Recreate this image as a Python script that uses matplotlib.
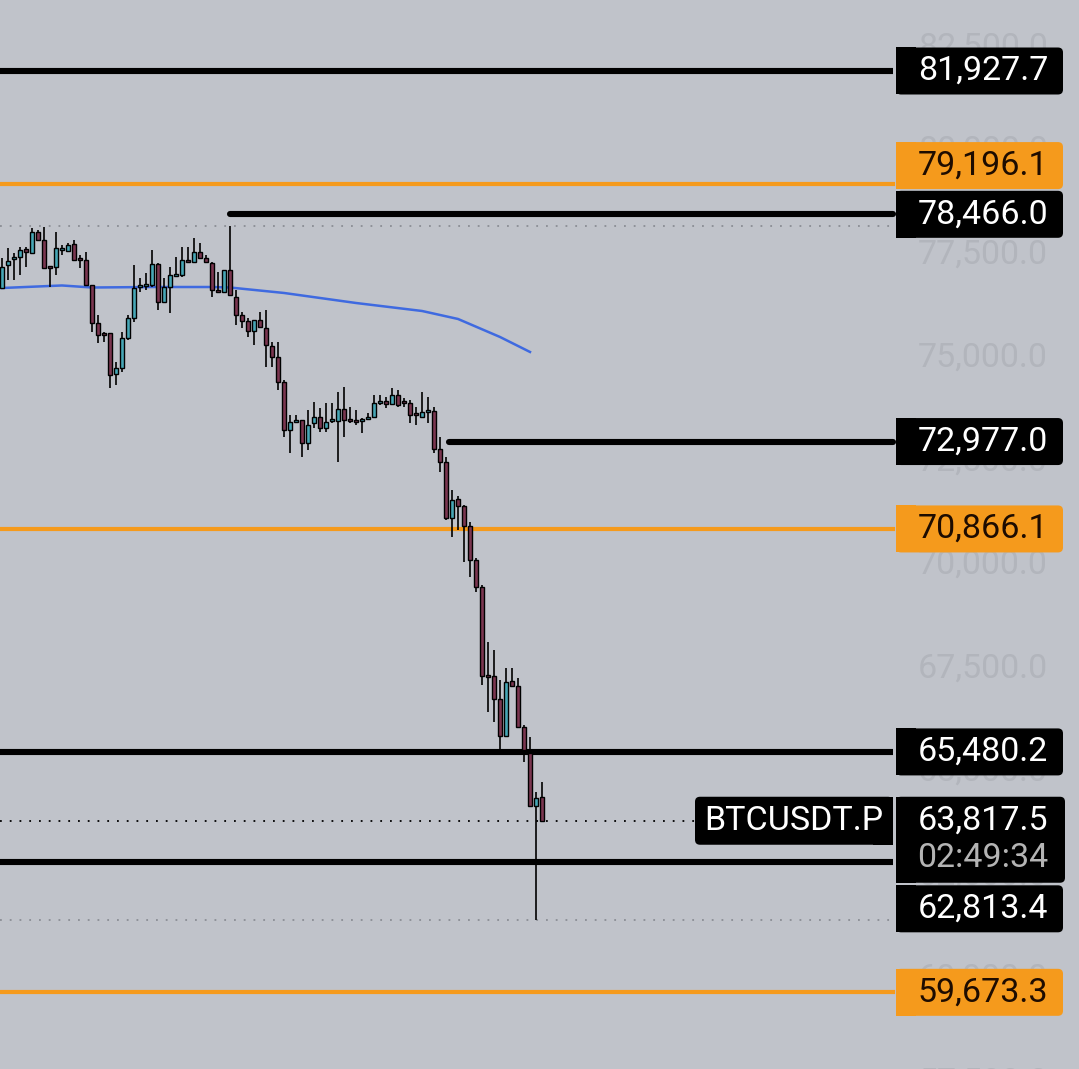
import numpy as np
import matplotlib.pyplot as plt
from matplotlib.patches import FancyBboxPatch, Rectangle
from matplotlib.transforms import Affine2D

plt.rcParams['font.family'] = ['Roboto', 'DejaVu Sans']

# 15m-ish candles
opens = [76686, 77242, 77387, 77435, 77628, 77532, 78039, 77846, 77217, 77193,
         77604, 77580, 77749, 77411, 77363, 76759, 75841, 75600, 75600, 74610,
         74754, 75479, 75962, 76710, 76735, 76759, 77266, 76348, 76710, 76976,
         77000, 77363, 77314, 77556, 77411, 77290, 76638, 76590, 77121, 76469,
         76034, 75890, 75648, 75914, 75720, 75286, 75020, 74416, 73257, 73450,
         73498, 72943, 73426, 73571, 73305, 73474, 73474, 73764, 73498, 73474,
         73474, 73523, 73571, 73909, 73957, 73885, 74102, 73933, 73909, 73668,
         73571, 73692, 73716, 72798, 72484, 71131, 71590, 71421, 70938, 70117,
         69465, 67315, 67315, 66759, 65866, 67194, 67073, 66083, 65455, 64175,
         64392]
highs = [77411, 77652, 77532, 77676, 77676, 78135, 78087, 78160, 77217, 78039,
         77725, 77773, 77846, 77483, 77556, 76759, 76034, 75624, 75600, 74899,
         75624, 76034, 77242, 76928, 77049, 77604, 77290, 76928, 77193, 77435,
         77676, 77676, 77894, 77773, 77483, 77314, 77073, 77121, 78184, 76638,
         76107, 75962, 75914, 76107, 76155, 75382, 75382, 74464, 73619, 73619,
         73498, 73740, 73933, 73788, 73909, 73909, 74175, 74296, 73812, 73740,
         73547, 73668, 74102, 74102, 74054, 74271, 74223, 74030, 73982, 73812,
         74175, 74054, 73812, 73088, 72605, 71808, 71663, 71445, 71035, 70165,
         69513, 68136, 67943, 67218, 67508, 67508, 67266, 66131, 65841, 64513,
         64754]
lows = [76686, 76880, 76880, 77000, 77193, 77532, 77846, 77169, 76710, 77000,
        77483, 77556, 77363, 77169, 76759, 75624, 75358, 75382, 74271, 74344,
        74658, 75431, 75865, 76590, 76638, 76710, 76155, 76324, 76083, 76952,
        76952, 77290, 77290, 77411, 77290, 76469, 76566, 76566, 76517, 75793,
        75720, 75503, 75310, 75720, 74779, 74779, 74223, 73088, 72701, 73426,
        72605, 72773, 73305, 73209, 73209, 73426, 72484, 73088, 73426, 73378,
        73185, 73498, 73571, 73861, 73788, 73861, 73812, 73812, 73426, 73378,
        73547, 73426, 72701, 72243, 71083, 70673, 70842, 70069, 69706, 69344,
        67097, 66445, 66204, 65407, 65841, 67049, 66059, 65237, 64151, 61421,
        63812]
closes = [77193, 77338, 77435, 77604, 77556, 78039, 77846, 77169, 77169, 77652,
          77652, 77725, 77363, 77363, 76759, 75841, 75551, 75551, 74585, 74754,
          75479, 75962, 76686, 76759, 76783, 77266, 76348, 76710, 77000, 77024,
          77363, 77314, 77556, 77411, 77314, 76638, 76590, 77121, 76517, 76034,
          75890, 75648, 75914, 75745, 75310, 75020, 74416, 73257, 73450, 73498,
          72943, 73378, 73571, 73305, 73450, 73498, 73764, 73498, 73474, 73450,
          73523, 73571, 73909, 73957, 73885, 74102, 73861, 73909, 73619, 73619,
          73692, 73740, 72798, 72484, 71131, 71566, 71421, 70938, 70117, 69465,
          67315, 67291, 66759, 65866, 67170, 67073, 66083, 65527, 64175, 64368,
          63817.5]

# moving average, sampled at a few candles
ma_idx = [0, 8, 10, 15, 25, 35, 38, 47, 59, 70, 76, 83, 88]
ma_val = [76686, 76735, 76747, 76698, 76710, 76710, 76698, 76566, 76324,
          76131, 75938, 75503, 75141]

# drawn levels
levels = [81927.7, 79196.1, 78466.0, 72977.0, 70866.1, 65480.2, 62813.4, 59673.3]
level_kind = ['black', 'orange', 'black', 'black', 'orange', 'black', 'black', 'orange']

ticks = [82500, 80000, 77500, 75000, 72500, 70000, 67500, 65000, 62500, 60000, 57500]
symbol = 'BTCUSDT.P'
countdown = '02:49:34'

# ---- layout / style ----
W, H = 1079, 1069
bg = '#c0c3ca'
up_c = '#47a7b6'
dn_c = '#7b3650'
orange = '#f59a1c'
ymin, ymax = 57821.0, 83642.7
line_end = 893  # px where lines stop
level_start = {2: 38, 3: 74.5}       # candle index where a line starts
label_shift = {1: -18.5, 6: 46.5}    # px, label pushed off its line

fig = plt.figure(figsize=(W / 100, H / 100), dpi=100)
fig.patch.set_facecolor(bg)
ax = fig.add_axes([0, 0, 1, 1])
ax.set_facecolor(bg)
ax.set_xlim(-1 / 3, (W - 2) / 6)
ax.set_ylim(ymin, ymax)
ax.axis('off')

px = Affine2D().scale(1 / W, 1 / H) + fig.transFigure
ppx = (ymax - ymin) / H


def ypx(p):
    return (p - ymin) / ppx


# price scale labels
for t in ticks:
    ax.text(1048, ypx(t), f'{t:,.1f}', transform=px, ha='right', va='center',
            fontsize=24.5, color='#b2b5bc', zorder=1)

xl0, xl1 = ax.get_xlim()
x_idx_end = xl0 + line_end / W * (xl1 - xl0)

for k, (lv, kind) in enumerate(zip(levels, level_kind)):
    x0 = level_start.get(k, xl0)
    if kind == 'black':
        ax.plot([x0, x_idx_end], [lv, lv], color='black', lw=4.4,
                solid_capstyle='round' if k in level_start else 'butt', zorder=2)
    else:
        ax.plot([x0, x_idx_end], [lv, lv], color=orange, lw=3.0, zorder=2)

# high / low / last dotted lines
hi, lo = max(highs), min(lows)
ax.plot([xl0, x_idx_end], [hi, hi], color='#8a8d94', lw=1.3,
        ls=(0, (1, 4.4)), zorder=2)
ax.plot([xl0, x_idx_end], [lo, lo], color='#8a8d94', lw=1.3,
        ls=(0, (1, 4.4)), zorder=2)
last_end = xl0 + 695 / W * (xl1 - xl0)
ax.plot([xl0, last_end], [closes[-1], closes[-1]], color='black',
        lw=1.3, ls=(0, (1, 4.4)), zorder=2)

# moving average
ax.plot(ma_idx, ma_val, color='#3f6ae0', lw=1.8, zorder=3)

# candles
idx = np.arange(len(opens))
o = np.array(opens)
c = np.array(closes)
cols = np.where(c >= o, up_c, dn_c)
ax.vlines(idx, lows, highs, color='black', lw=1.2, zorder=4)
bottoms = np.minimum(o, c)
heights = np.maximum(np.abs(c - o), ppx * 1.5)
ax.bar(idx, heights, bottom=bottoms, width=0.74, color=cols,
       edgecolor='black', linewidth=1.0, zorder=5)


def tag(yc, text, fc, tc, x0=896, x1=1063, h=47, square_left=True):
    ax.add_patch(FancyBboxPatch((x0, yc - h / 2), x1 - x0, h,
                                boxstyle='round,pad=0,rounding_size=5',
                                fc=fc, ec='none', transform=px, zorder=6))
    if square_left:
        ax.add_patch(Rectangle((x0, yc - h / 2), 20, h, fc=fc, ec='none',
                               transform=px, zorder=6))
    ax.text(1048, yc, text, transform=px, ha='right', va='center',
            fontsize=24.5, color=tc, zorder=7)


for k, (lv, kind) in enumerate(zip(levels, level_kind)):
    yc = ypx(lv) - label_shift.get(k, 0)
    if kind == 'black':
        tag(yc, f'{lv:,.1f}', 'black', 'white')
    else:
        tag(yc, f'{lv:,.1f}', orange, '#1e0c00')

# current price block
yl = ypx(closes[-1])
ax.add_patch(FancyBboxPatch((896, yl - 62), 169, 86,
                            boxstyle='round,pad=0,rounding_size=5',
                            fc='black', ec='none', transform=px, zorder=6))
ax.add_patch(Rectangle((896, yl - 62), 20, 86, fc='black', ec='none',
                       transform=px, zorder=6))
ax.text(1048, yl, f'{closes[-1]:,.1f}', transform=px, ha='right', va='center',
        fontsize=24.5, color='white', zorder=7)
ax.text(1048, yl - 37, countdown, transform=px, ha='right', va='center',
        fontsize=24.5, color='#b4b4b4', zorder=7)
ax.add_patch(FancyBboxPatch((695, yl - 24), 198, 48,
                            boxstyle='round,pad=0,rounding_size=5',
                            fc='black', ec='none', transform=px, zorder=6))
ax.add_patch(Rectangle((873, yl - 24), 20, 48, fc='black', ec='none',
                       transform=px, zorder=6))
ax.text(794, yl, symbol, transform=px, ha='center', va='center',
        fontsize=24.5, color='white', zorder=7)

fig.savefig('out.png', dpi=100, facecolor=bg)
